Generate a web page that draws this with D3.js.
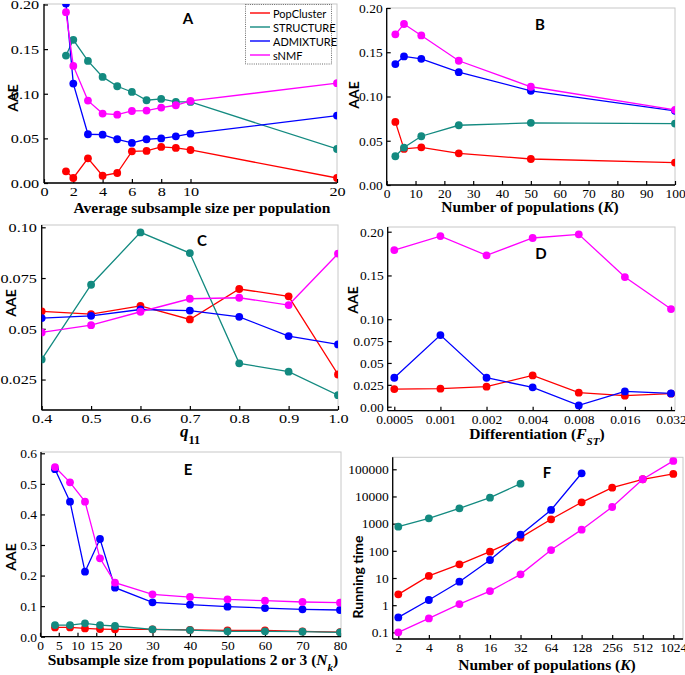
<!DOCTYPE html>
<html>
<head>
<meta charset="utf-8">
<script src="https://cdn.jsdelivr.net/npm/d3@7"></script>
<style>
  body { margin: 0; background: #fff; }
  svg { display: block; }
  .tick text { font-family: "Liberation Serif", "DejaVu Serif", serif; font-size: 13.5px; fill: #000; }
  .domain { display: none; }
  .tick line { stroke: #000; stroke-width: 1.2; }
</style>
</head>
<body>
<svg id="chart" width="685" height="675"></svg>
<script>
// ---------------- DATA ----------------
const seriesNames = ["PopCluster", "STRUCTURE", "ADMIXTURE", "sNMF"];
const seriesColors = ["#ff0000", "#138a80", "#0000ff", "#ff00ff"];

// Panel A: AAE vs average subsample size per population
const aX = [1.5, 2, 3, 4, 5, 6, 7, 8, 9, 10, 20];
const aPopCluster = [0.0131, 0.0056, 0.0277, 0.0082, 0.0112, 0.0355, 0.0359, 0.0404, 0.0393, 0.0370, 0.0056];
const aStructure  = [0.1428, 0.1604, 0.1368, 0.1189, 0.1084, 0.1020, 0.0927, 0.0942, 0.0908, 0.0908, 0.0381];
const aAdmixture  = [0.2010, 0.1114, 0.0546, 0.0542, 0.0490, 0.0449, 0.0490, 0.0500, 0.0523, 0.0553, 0.0755];
const aSNMF       = [0.1914, 0.1312, 0.0923, 0.0778, 0.0766, 0.0807, 0.0811, 0.0845, 0.0871, 0.0920, 0.1118];
const aXTicks = [0, 2, 4, 6, 8, 10, 20];
const aYTicks = [0, 0.05, 0.10, 0.15, 0.20];

// Panel B: AAE vs number of populations (K)
const bX = [3, 6, 12, 25, 50, 100];
const bPopCluster = [0.0713, 0.0408, 0.0426, 0.0358, 0.0294, 0.0253];
const bStructure  = [0.0325, 0.0423, 0.0551, 0.0675, 0.0702, 0.0694];
const bAdmixture  = [0.1366, 0.1453, 0.1426, 0.1275, 0.1064, 0.0838];
const bSNMF       = [0.1702, 0.1819, 0.1690, 0.1404, 0.1110, 0.0849];
const bXTicks = [0, 10, 20, 30, 40, 50, 60, 70, 80, 90, 100];
const bYTicks = [0, 0.05, 0.10, 0.15, 0.20];

// Panel C: AAE vs q11
const cX = [0.4, 0.5, 0.6, 0.7, 0.8, 0.9, 1.0];
const cPopCluster = [0.0586, 0.0572, 0.0613, 0.0546, 0.0696, 0.0660, 0.0275];
const cStructure  = [0.0349, 0.0717, 0.0975, 0.0873, 0.0330, 0.0289, 0.0173];
const cAdmixture  = [0.0553, 0.0564, 0.0595, 0.0590, 0.0559, 0.0464, 0.0423];
const cSNMF       = [0.0482, 0.0518, 0.0584, 0.0648, 0.0653, 0.0617, 0.0870];
const cXTicks = [0.4, 0.5, 0.6, 0.7, 0.8, 0.9, 1.0];
const cYTicks = [0.025, 0.05, 0.075, 0.10];

// Panel D: AAE vs differentiation (FST)
const dX = ["0.0005", "0.001", "0.002", "0.004", "0.008", "0.016", "0.032"];
const dPopCluster = [0.0202, 0.0206, 0.0229, 0.0358, 0.0160, 0.0126, 0.0149];
const dAdmixture  = [0.0331, 0.0819, 0.0331, 0.0221, 0.0015, 0.0175, 0.0152];
const dSNMF       = [0.1790, 0.1950, 0.1730, 0.1928, 0.1970, 0.1482, 0.1116];
const dYTicks = [0, 0.025, 0.05, 0.075, 0.10, 0.15, 0.20];

// Panel E: AAE vs subsample size from populations 2 or 3 (Nk)
const eX = [4, 8, 12, 16, 20, 30, 40, 50, 60, 70, 80];
const ePopCluster = [0.0305, 0.0305, 0.0270, 0.0250, 0.0240, 0.0240, 0.0220, 0.0210, 0.0210, 0.0175, 0.0150];
const eStructure  = [0.0380, 0.0380, 0.0436, 0.0380, 0.0350, 0.0240, 0.0218, 0.0175, 0.0175, 0.0164, 0.0142];
const eAdmixture  = [0.5480, 0.4418, 0.2127, 0.3196, 0.1604, 0.1124, 0.1047, 0.0982, 0.0938, 0.0895, 0.0873];
const eSNMF       = [0.5550, 0.5050, 0.4418, 0.2564, 0.1767, 0.1385, 0.1298, 0.1222, 0.1178, 0.1135, 0.1113];
const eXTicks = [0, 5, 10, 15, 20, 30, 40, 50, 60, 70, 80];
const eYTicks = [0, 0.1, 0.2, 0.3, 0.4, 0.5, 0.6];

// Panel F: running time vs number of populations (K)
const fX = [2, 4, 8, 16, 32, 64, 128, 256, 512, 1024];
const fPopCluster = [2.5, 11.9, 31.8, 93, 305, 1445, 6100, 21100, 42900, 67300];
const fStructure  = [776, 1571, 3660, 9060, 29600];
const fAdmixture  = [0.356, 1.55, 7.3, 46, 394, 3184, 71300];
const fSNMF       = [0.1, 0.327, 1.1, 3.3, 13.6, 107, 601, 4100, 42900, 203000];
const fYTicks = [0.1, 1, 10, 100, 1000, 10000, 100000];

// ---------------- DRAWING ----------------
const svg = d3.select("#chart");
const serif = "Liberation Serif, DejaVu Serif, serif";
const sans = "Lato, Open Sans, Liberation Sans, sans-serif";
let clipId = 0;

function drawPanel(p) {
  const g = svg.append("g");
  const { l, r, t, b } = p.box;
  g.append("rect").attr("x", l).attr("y", t).attr("width", r - l).attr("height", b - t)
    .attr("fill", "none").attr("stroke", "#c8c8c8").attr("stroke-width", 1);

  const id = "clip" + (clipId++);
  svg.append("clipPath").attr("id", id).append("rect")
    .attr("x", l).attr("y", t).attr("width", r - l).attr("height", b - t);

  const xa = d3.axisBottom(p.x).tickValues(p.xTicks).tickSizeInner(-4).tickSizeOuter(0).tickPadding(3.5);
  if (p.xFormat) xa.tickFormat(p.xFormat);
  const xg = g.append("g").attr("transform", `translate(0,${b})`).call(xa);
  const ya = d3.axisLeft(p.y).tickValues(p.yTicks).tickSizeInner(-4).tickSizeOuter(0).tickPadding(4);
  if (p.yFormat) ya.tickFormat(p.yFormat);
  const yg = g.append("g").attr("transform", `translate(${l},0)`).call(ya);
  [xg, yg].forEach(a => a.attr("font-family", serif).attr("font-size", 13.5));
  if (p.stretch) {
    xg.selectAll(".tick text").attr("transform", `scale(${p.stretch},1)`);
    yg.selectAll(".tick text").attr("transform", `scale(${p.stretch},1)`);
  }
  g.append("line").attr("x1", l).attr("x2", r).attr("y1", b).attr("y2", b).attr("stroke", "#000").attr("stroke-width", 1.3);
  g.append("line").attr("x1", l).attr("x2", l).attr("y1", t).attr("y2", b).attr("stroke", "#000").attr("stroke-width", 1.3);

  const plot = g.append("g").attr("clip-path", `url(#${id})`);
  p.series.forEach(s => {
    const pts = s.xs.map((xv, i) => [p.x(xv), p.y(s.ys[i])]);
    plot.append("path").attr("d", d3.line()(pts)).attr("fill", "none")
      .attr("stroke", s.color).attr("stroke-width", 1.3);
    plot.selectAll(null).data(pts).enter().append("circle")
      .attr("cx", d => d[0]).attr("cy", d => d[1]).attr("r", 3.9).attr("fill", s.color);
  });

  g.append("text").attr("x", p.letter[0]).attr("y", p.letter[1]).attr("text-anchor", "middle")
    .attr("dominant-baseline", "central").attr("font-family", sans).attr("font-weight", "bold")
    .attr("font-size", 15).text(p.letterText);

  g.append("text").attr("transform", `translate(${p.yTitle[0]},${p.yTitle[1]}) rotate(-90)`)
    .attr("text-anchor", "middle").attr("dominant-baseline", "central")
    .attr("font-family", sans).attr("font-weight", "bold").attr("font-size", p.yTitleSize || 14)
    .text(p.yTitleText);

  const xt = g.append("text").attr("x", p.xTitle[0]).attr("y", p.xTitle[1]).attr("text-anchor", "middle")
    .attr("font-family", serif).attr("font-weight", "bold").attr("font-size", p.xTitleSize || 15.5);
  p.xTitleParts.forEach(part => {
    const ts = xt.append("tspan").text(part.t);
    if (part.i) ts.attr("font-style", "italic");
    if (part.sub) ts.attr("font-size", "0.72em").attr("baseline-shift", "sub");
  });
  return g;
}

function mk(xs, ysList, names, colors) {
  return ysList.map((ys, i) => ({ name: names[i], xs: xs.slice(0, ys.length), ys, color: colors[i] }));
}

const fmt2 = d3.format(".2f");

// Panel A
const gA = drawPanel({
  box: { l: 44, r: 337, t: 4, b: 183 },
  x: d3.scaleLinear().domain([0, 20]).range([44, 337]),
  y: d3.scaleLinear().domain([0, 0.2]).range([183, 4.5]),
  xTicks: aXTicks, yTicks: aYTicks, yFormat: fmt2, stretch: 1.2,
  series: mk(aX, [aPopCluster, aStructure, aAdmixture, aSNMF], seriesNames, seriesColors),
  letter: [188, 18], letterText: "A",
  yTitle: [12, 98], yTitleText: "AAE",
  xTitle: [202, 213], xTitleParts: [{ t: "Average subsample size per population" }]
});
const lg = gA.append("g");
lg.append("rect").attr("x", 245.5).attr("y", 4.5).attr("width", 86).attr("height", 59.5)
  .attr("fill", "#fff").attr("stroke", "#444").attr("stroke-width", 0.8).attr("stroke-dasharray", "1,1.2");
seriesNames.forEach((n, i) => {
  const yy = 13 + i * 14;
  lg.append("line").attr("x1", 250).attr("x2", 270).attr("y1", yy).attr("y2", yy)
    .attr("stroke", seriesColors[i]).attr("stroke-width", 1.4);
  lg.append("text").attr("x", 273).attr("y", yy).attr("dominant-baseline", "central")
    .attr("font-family", sans).attr("font-size", 11).text(n);
});

// Panel B
drawPanel({
  box: { l: 386.7, r: 675, t: 8, b: 185 },
  x: d3.scaleLinear().domain([0, 100]).range([386.7, 675]),
  y: d3.scaleLinear().domain([0, 0.2]).range([185, 8]),
  xTicks: bXTicks, yTicks: bYTicks, yFormat: fmt2,
  series: mk(bX, [bPopCluster, bStructure, bAdmixture, bSNMF], seriesNames, seriesColors),
  letter: [540, 24], letterText: "B",
  yTitle: [353, 95], yTitleText: "AAE",
  xTitle: [530, 212], xTitleParts: [{ t: "Number of populations (" }, { t: "K", i: true }, { t: ")" }]
});

// Panel C
drawPanel({
  box: { l: 41.7, r: 338, t: 225, b: 410 },
  x: d3.scaleLinear().domain([0.4, 1.0]).range([41.7, 338]),
  y: d3.scaleLinear().domain([0.01, 0.10]).range([410, 227.3]),
  xTicks: cXTicks, yTicks: cYTicks, xFormat: d3.format(".1f"),
  yFormat: d => ({ 0.025: "0.025", 0.05: "0.05", 0.075: "0.075", 0.1: "0.10" })[d], stretch: 1.2,
  series: mk(cX, [cPopCluster, cStructure, cAdmixture, cSNMF], seriesNames, seriesColors),
  letter: [202, 240], letterText: "C",
  yTitle: [10, 303], yTitleText: "AAE",
  xTitle: [190, 437], xTitleSize: 17, xTitleParts: [{ t: "q", i: true }, { t: "11", sub: true }]
});

// Panel D
drawPanel({
  box: { l: 387.7, r: 675, t: 227, b: 410.7 },
  x: d3.scalePoint().domain(dX).range([394.3, 671]),
  y: d3.scaleLinear().domain([0, 0.2]).range([406.7, 231.7]),
  xTicks: dX, yTicks: dYTicks,
  yFormat: d => ({ 0: "0.00", 0.025: "0.025", 0.05: "0.05", 0.075: "0.075", 0.1: "0.10", 0.15: "0.15", 0.2: "0.20" })[d],
  series: mk(dX, [dPopCluster, dAdmixture, dSNMF], ["PopCluster", "ADMIXTURE", "sNMF"], [seriesColors[0], seriesColors[2], seriesColors[3]]),
  letter: [541, 253], letterText: "D",
  yTitle: [352, 300], yTitleText: "AAE",
  xTitle: [537, 439], xTitleParts: [{ t: "Differentiation (" }, { t: "F", i: true }, { t: "ST", i: true, sub: true }, { t: ")" }]
});

// Panel E
drawPanel({
  box: { l: 41, r: 341, t: 452, b: 636.7 },
  x: d3.scaleLinear().domain([0, 80]).range([40, 340]),
  y: d3.scaleLinear().domain([0, 0.6]).range([636.7, 453.3]),
  xTicks: eXTicks, yTicks: eYTicks, yFormat: d3.format(".1f"),
  series: mk(eX, [ePopCluster, eStructure, eAdmixture, eSNMF], seriesNames, seriesColors),
  letter: [188, 469], letterText: "E",
  yTitle: [10, 557], yTitleText: "AAE",
  xTitle: [193, 665], xTitleParts: [{ t: "Subsample size from populations 2 or 3 (" }, { t: "N", i: true }, { t: "k", i: true, sub: true }, { t: ")" }]
});

// Panel F
drawPanel({
  box: { l: 392.7, r: 683, t: 457.3, b: 639 },
  x: d3.scaleLog().base(2).domain([2, 1024]).range([398.3, 673.3]),
  y: d3.scaleLog().domain([0.057, 276000]).range([639, 457.3]),
  xTicks: fX, yTicks: fYTicks, xFormat: d3.format("d"), yFormat: d => String(d),
  series: mk(fX, [fPopCluster, fStructure, fAdmixture, fSNMF], seriesNames, seriesColors),
  letter: [547, 472], letterText: "F",
  yTitle: [357, 577], yTitleText: "Running time",
  xTitle: [547, 670], xTitleParts: [{ t: "Number of populations (" }, { t: "K", i: true }, { t: ")" }]
});
</script>
</body>
</html>
